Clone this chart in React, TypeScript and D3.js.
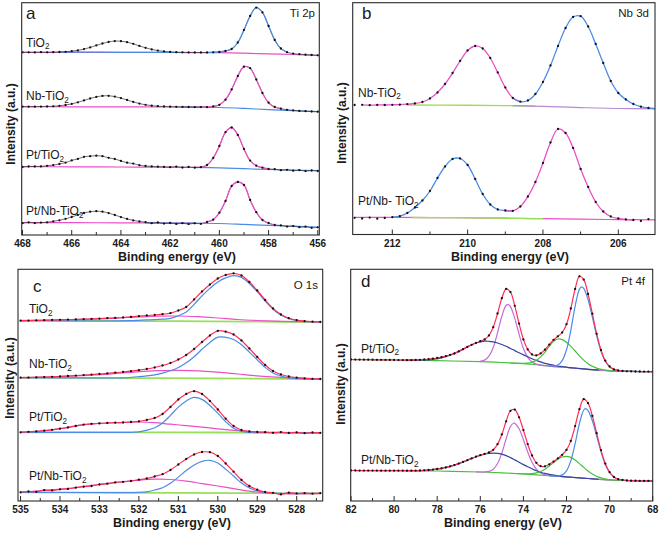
import React from "react";
import * as d3 from "d3";

const FONT = "'Liberation Sans', Arial, Helvetica, sans-serif";
type P = [number, number];

// ---------- binding-energy sampling grids (eV) ----------
const gridA = d3.range(468, 455.9, -0.25);
const gridB = d3.range(213, 204.9, -0.2);
const gridC = d3.range(535, 527.3, -0.2);
const gridD = d3.range(82, 67.9, -0.2);

// ---------- ticks ----------
const aMajor = [468, 466, 464, 462, 460, 458, 456];
const aMinor = [467, 465, 463, 461, 459, 457];
const bMajor = [212, 210, 208, 206];
const bMinor = [211, 209, 207];
const cMajor = [535, 534, 533, 532, 531, 530, 529, 528];
const cMinor = [534.5, 533.5, 532.5, 531.5, 530.5, 529.5, 528.5, 527.5];
const dMajor = [82, 80, 78, 76, 74, 72, 70, 68];
const dMinor = [81, 79, 77, 75, 73, 71, 69];

// ---------- labels ----------
const aSamples = ["TiO₂", "Nb-TiO₂", "Pt/TiO₂", "Pt/Nb-TiO₂"];
const bSamples = ["Nb-TiO₂", "Pt/Nb- TiO₂"];
const cSamples = ["TiO₂", "Nb-TiO₂", "Pt/TiO₂", "Pt/Nb-TiO₂"];
const dSamples = ["Pt/TiO₂", "Pt/Nb-TiO₂"];

// ---------- (a) Ti 2p raw intensities (a.u.) on gridA ----------
const aTiO2 = [186.7,186.7,186.6,186.8,186.7,186.8,187.0,187.2,187.8,188.6,189.9,191.6,193.6,195.5,197.1,197.9,197.8,196.8,195.2,193.1,191.2,189.6,188.4,187.6,187.1,186.8,186.7,186.6,186.5,186.5,186.5,186.7,187.0,188.0,190.0,196.5,209.0,223.0,231.4,226.6,213.0,199.0,190.5,186.8,185.4,184.8,184.3,184.0,183.7];
const aNbTiO2 = [132.3,132.3,132.3,132.4,132.5,132.7,133.2,134.0,135.1,136.7,138.6,140.5,142.1,143.1,143.2,142.4,140.9,139.0,137.1,135.4,134.2,133.3,132.8,132.5,132.3,132.2,132.1,132.0,131.9,131.9,131.8,132.6,134.2,139.3,149.6,163.0,172.3,170.8,159.5,146.0,136.3,132.0,130.3,129.2,128.6,128.1,127.8,127.5,127.3];
const aPtTiO2 = [72.0,72.5,72.5,72.6,73.2,73.9,75.0,76.4,78.6,80.1,82.2,82.8,83.3,82.8,81.2,80.0,78.1,76.3,75.4,73.8,73.0,72.6,72.3,72.1,71.8,72.3,71.5,72.0,71.3,71.8,74.0,81.0,93.0,106.8,111.5,104.0,90.0,78.4,73.3,71.3,70.0,69.8,68.8,69.2,68.3,68.8,67.9,68.5,68.0];
const aPtNbTiO2 = [15.8,16.6,15.9,16.4,16.7,17.7,18.7,20.2,22.0,24.1,26.0,27.3,27.8,27.3,25.9,24.0,21.9,20.1,18.6,17.5,16.8,15.8,16.5,15.4,16.0,15.1,15.8,14.9,15.7,15.2,17.0,19.3,26.3,38.0,53.0,57.0,54.0,39.0,26.8,19.0,16.0,14.0,13.6,12.4,12.9,11.8,12.3,11.2,11.7];
// (a) backgrounds
const aTiO2Pink: P[] = [[468,186.7],[466,186.7],[464,186.6],[462,186.5],[460,186.3],[459,185.8],[458,185.1],[457,184.5],[456,183.7]];
const aTiO2Blue: P[] = [[466.5,186.9],[465,186.8],[463,186.6],[461.5,186.5]];
const aNbPink: P[] = [[468,132.3],[466,132.2],[464,132.1],[462,132.0],[460.5,131.8]];
const aNbBlue: P[] = [[461.5,132.0],[460,131.5],[459,130.6],[458,129.4],[457,128.4],[456,127.3]];
const aPtPink: P[] = [[468,72.3],[466,72.2],[464,72.0],[462,71.8],[460.5,71.6]];
const aPtBlue: P[] = [[461,71.7],[460,71.2],[459,70.3],[458,69.5],[457,68.9],[456,68.3]];
const aPtNbPink: P[] = [[468,16.3],[466,16.3],[464,16.2],[462,16.0],[461,15.9]];
const aPtNbBlue: P[] = [[463,16.1],[461,15.8],[460,15.5],[459,14.6],[458,13.6],[457,12.8],[456,12.0]];

// ---------- (b) Nb 3d on gridB ----------
const bNbTiO2 = [134.0,134.2,133.8,134.1,134.0,134.2,134.3,134.8,135.5,137.0,140.5,146.5,155.0,166.0,178.0,188.5,193.0,190.5,181.0,166.5,151.5,141.0,137.3,138.5,145.0,157.0,173.5,193.0,211.0,222.0,222.8,212.5,195.0,176.0,158.0,146.0,139.5,135.0,132.3,131.0,130.4];
const bPtNbTiO2 = [21.2,20.5,21.4,20.3,21.0,21.8,22.8,26.0,31.5,38.5,48.0,61.0,72.5,80.0,80.5,74.0,60.0,45.0,34.5,29.5,28.5,28.2,32.5,42.5,57.0,76.0,96.5,110.0,106.0,91.0,70.0,52.0,37.0,27.5,22.5,20.5,19.5,19.0,18.0,19.8,19.2];
const bNbGreen: P[] = [[211.6,134.0],[210,133.8],[209,133.4],[208.2,133.0]];
const bNbPurple: P[] = [[208.8,133.4],[208,132.6],[207,131.4],[206,130.5],[205,130.1]];
const bPtGreen: P[] = [[211.5,21.5],[210,21.2],[209,20.8],[208,20.4]];
const bPtPurple: P[] = [[213,21.7],[211,21.4],[209,20.8],[208,20.3],[207,19.8],[206,19.4],[205,19.2]];

// ---------- (c) O 1s on gridC ----------
const cTiO2 = [178.3,178.4,178.6,178.8,179.0,179.2,179.4,179.6,179.8,180.1,180.4,180.8,181.1,181.5,182.1,182.8,183.5,184.0,184.8,185.8,188.5,192.0,199.5,207.5,214.5,220.5,224.0,225.7,223.5,217.0,208.5,199.0,190.5,184.5,180.8,178.8,177.8,177.3,177.0];
const cNbTiO2 = [121.3,121.4,121.6,121.9,122.2,122.6,123.0,123.4,123.9,124.4,125.0,125.6,126.3,127.0,127.8,128.8,130.0,131.5,133.5,136.0,139.5,144.0,150.0,157.0,163.5,168.2,167.3,164.5,158.5,150.5,142.0,134.0,128.0,124.5,122.5,121.3,120.6,120.2,120.0];
const cPtTiO2 = [66.7,67.2,67.6,68.3,69.2,70.3,71.5,73.0,74.4,75.2,75.6,76.0,76.3,76.5,77.0,77.6,79.0,81.0,85.0,92.0,99.5,105.0,107.8,105.0,98.0,89.5,80.3,73.0,69.0,67.5,67.0,66.8,66.2,66.9,66.0,66.6,65.8,66.5,66.2];
const cPtNbTiO2 = [6.7,7.5,7.2,8.8,8.6,9.7,10.0,11.3,12.3,13.0,14.5,15.3,16.6,17.2,18.0,19.3,20.5,22.5,24.8,29.0,34.5,40.0,44.5,47.0,46.8,43.0,35.5,27.3,19.0,13.0,9.3,7.0,6.2,4.6,6.3,5.5,5.9,5.4,5.8];
// (c) fitted components
const cTiO2Green: P[] = [[535,178.3],[533,178.0],[531,177.8],[529,177.3],[527.4,177.0]];
const cTiO2Pink: P[] = [[535,178.3],[534,179.1],[533,180.2],[532.5,181.0],[532,182.0],[531.5,182.8],[531,183.0],[530.5,182.3],[530,181.0],[529.5,179.5],[529,178.5],[528.5,177.8],[528,177.4],[527.4,177.0]];
const cTiO2Blue: P[] = [[535,178.3],[534,178.2],[533,178.0],[532.2,178.3],[532,178.7],[531.8,179.1],[531.6,179.3],[531.4,179.8],[531.2,180.7],[531,183.3],[530.8,187.0],[530.6,194.7],[530.4,203.1],[530.2,210.6],[530,217.0],[529.8,221.1],[529.6,223.3],[529.4,221.6],[529.2,215.5],[529,207.3],[528.8,198.0],[528.6,189.8],[528.4,183.9],[528.2,180.4],[528,178.5],[527.8,177.6],[527.6,177.2],[527.4,177.0]];
const cNbGreen: P[] = [[535,121.3],[533,121.0],[531.5,120.8],[529,120.3],[527.4,120.0]];
const cNbPink: P[] = [[535,121.3],[534,122.4],[533,124.3],[532.5,125.8],[532,127.4],[531.5,128.3],[531,128.7],[530.5,128.2],[530,126.8],[529.5,125.0],[529,123.2],[528.5,121.9],[528,121.0],[527.4,120.2]];
const cNbBlue: P[] = [[535,121.3],[534,121.1],[533,121.0],[532.4,121.2],[532,122.3],[531.8,123.1],[531.6,124.2],[531.4,125.9],[531.2,128.2],[531,131.5],[530.8,136.2],[530.6,142.3],[530.4,149.7],[530.2,156.6],[530,161.9],[529.8,161.7],[529.6,159.5],[529.4,154.3],[529.2,146.9],[529,139.1],[528.8,131.6],[528.6,126.0],[528.4,123.0],[528.2,121.2],[528,120.4],[527.8,120.0],[527.4,120.0]];
const cPtGreen: P[] = [[535,66.7],[532,66.6],[530,66.5],[527.4,66.2]];
const cPtPink: P[] = [[535,66.7],[534.5,67.8],[534,70.3],[533.5,73.8],[533,75.6],[532.5,76.4],[532,77.0],[531.6,76.4],[531.2,74.8],[530.8,73.4],[530.4,71.9],[530,70.2],[529.5,68.4],[529,67.0],[528.5,66.5],[527.4,66.2]];
const cPtBlue: P[] = [[535,66.7],[533,66.6],[532.2,66.7],[532,67.2],[531.8,68.8],[531.6,71.2],[531.4,76.0],[531.2,83.7],[531,91.9],[530.8,98.1],[530.6,101.6],[530.4,99.6],[530.2,93.5],[530,85.8],[529.8,77.3],[529.6,70.7],[529.4,67.5],[529.2,66.5],[528.5,66.4],[527.4,66.2]];
const cPtNbGreen: P[] = [[535,6.7],[531,6.2],[529,5.8],[527.4,5.6]];
const cPtNbPink: P[] = [[535,6.7],[534.5,8.3],[534,9.8],[533.5,12.0],[533,14.6],[532.5,16.8],[532,18.8],[531.6,19.8],[531.2,19.5],[530.8,17.8],[530.4,15.4],[530,13.0],[529.6,10.3],[529.2,7.8],[528.8,6.2],[528.4,5.3],[527.4,5.3]];
const cPtNbBlue: P[] = [[535,6.7],[532.5,6.4],[532,6.6],[531.8,7.2],[531.6,9.0],[531.4,11.3],[531.2,15.7],[531,21.9],[530.8,28.4],[530.6,34.0],[530.4,37.7],[530.2,38.7],[530,36.0],[529.8,29.9],[529.6,23.0],[529.4,15.9],[529.2,11.1],[529,8.1],[528.8,6.6],[528.6,5.9],[528,5.7],[527.4,5.6]];

// ---------- (d) Pt 4f on gridD ----------
const dPtTiO2 = [139.5,139.45,139.4,139.35,139.3,139.25,139.2,139.15,139.1,139.05,139.0,138.95,138.9,138.85,138.8,139.0,139.2,139.5,139.9,140.4,141.0,141.8,142.8,144.2,145.5,147.6,149.8,152.1,154.2,156.1,157.8,159.6,163.5,171.8,185.5,200.8,210.1,206.9,193.2,175.4,159.6,149.6,144.6,143.6,145.6,149.3,154.4,159.2,162.7,166.5,174.8,190.5,210.0,222.7,219.4,205.0,185.3,165.2,149.0,138.3,132.5,129.6,128.5,128.0,127.7,127.6,127.5,127.5,127.4,127.4,127.3];
const dPtNbTiO2 = [28.5,28.5,28.45,28.45,28.4,28.4,28.4,28.35,28.35,28.3,28.3,28.3,28.3,28.3,28.3,28.4,28.5,28.7,29.0,29.4,30.0,30.6,31.5,32.6,33.9,35.4,37.1,38.8,40.6,42.3,43.8,45.1,46.5,49.2,54.8,64.6,77.7,88.2,89.4,81.7,68.9,54.9,43.5,36.2,32.8,32.7,34.7,37.4,40.7,44.2,49.1,58.1,72.9,89.8,99.8,95.8,83.1,65.8,48.9,35.4,26.8,22.0,19.8,19.0,18.5,18.3,18.25,18.2,18.1,18.05,18.0];
const dPtBase: P[] = [[82,139.5],[80,139.0],[78,138.3],[76,137.3],[75,136.5],[74,135.3],[73.5,134.5],[73,133.3],[72.5,132.4],[72,131.5],[71.5,130.6],[71,129.7],[70.5,128.8],[70,128.2],[69,127.6],[68,127.3]];
const dPtPurple: P[] = [[76.4,137.5],[76.2,137.5],[76.0,137.75],[75.8,138.9],[75.6,142.8],[75.4,151.5],[75.2,166.2],[75.0,182.8],[74.8,193.7],[74.7,194.4],[74.6,192.4],[74.4,180.6],[74.2,164.7],[74.0,150.5],[73.8,141.6],[73.6,137.0],[73.4,134.9],[73.2,134.0],[73.0,133.3],[72.5,132.4],[72,131.5],[71,129.7],[70,128.2],[69,127.6],[68,127.3]];
const dPtNavy: P[] = [[79.5,138.8],[79.0,138.8],[78.6,139.0],[78.2,139.7],[77.8,141.1],[77.4,143.8],[77.0,147.6],[76.6,152.1],[76.2,156.0],[75.8,157.8],[75.6,157.7],[75.4,157.1],[75.2,156.0],[75.0,154.5],[74.8,152.7],[74.6,150.5],[74.4,148.4],[74.2,146.2],[74.0,144.1],[73.8,142.2],[73.6,140.3],[73.4,138.6],[73.2,137.1],[73.0,135.7],[72.8,134.6],[72.6,133.8],[72.4,133.0],[72.2,132.5],[72.0,131.9],[71.8,131.3],[71.6,130.9],[71.4,130.5],[71.0,129.7],[70.5,128.8]];
const dPtGreen: P[] = [[74.6,136.0],[74.2,135.6],[74.0,135.6],[73.8,135.8],[73.6,136.7],[73.4,138.7],[73.2,142.1],[73.0,146.9],[72.8,152.6],[72.6,157.6],[72.4,160.0],[72.2,159.4],[72.0,156.7],[71.8,152.7],[71.6,148.0],[71.4,143.2],[71.2,138.9],[71.0,135.3],[70.8,132.7],[70.6,130.9],[70.4,129.6],[70.2,128.9],[70.0,128.4],[69.6,128.0],[69.0,127.6]];
const dPtBlue: P[] = [[72.8,133.0],[72.6,133.0],[72.4,134.1],[72.2,138.4],[72.0,149.2],[71.8,168.7],[71.6,192.7],[71.4,209.9],[71.3,212.2],[71.2,210.6],[71.0,199.4],[70.8,181.9],[70.6,163.3],[70.4,148.0],[70.2,137.8],[70.0,132.3],[69.8,129.6],[69.6,128.5],[69.4,128.0],[69.0,127.6],[68.0,127.3]];
const dPtNbBase: P[] = [[82,28.5],[80,28.3],[78,28.0],[76,27.0],[75,26.2],[74,25.0],[73,23.5],[72,22.0],[71,20.5],[70,19.0],[69,18.3],[68,18.0]];
const dPtNbPurple: P[] = [[76.2,27.1],[76.0,27.0],[75.8,27.0],[75.6,27.6],[75.4,29.8],[75.2,35.5],[75.0,46.0],[74.8,60.3],[74.6,72.5],[74.44,76.0],[74.4,75.8],[74.2,70.2],[74.0,59.3],[73.8,47.0],[73.6,36.7],[73.4,29.9],[73.2,26.1],[73.0,24.3],[72.8,23.5],[72.6,23.0],[72,22.0],[71,20.5],[70,19.0],[69,18.3],[68,18.0]];
const dPtNbNavy: P[] = [[79.5,28.3],[79.0,28.4],[78.6,28.7],[78.2,29.4],[77.8,30.6],[77.4,32.6],[77.0,35.4],[76.6,38.8],[76.2,42.3],[75.8,44.9],[75.6,45.6],[75.4,45.9],[75.2,45.7],[75.0,44.8],[74.8,43.4],[74.6,41.4],[74.4,39.1],[74.2,36.7],[74.0,34.4],[73.8,32.2],[73.6,30.2],[73.4,28.3],[73.2,26.8],[73.0,25.6],[72.6,23.8],[72.2,22.65],[71.8,21.8],[71.4,21.15],[71.0,20.5],[70.5,19.75]];
const dPtNbGreen: P[] = [[74.4,25.5],[74.2,25.3],[74.0,25.2],[73.8,25.1],[73.6,25.4],[73.4,26.2],[73.2,27.5],[73.0,29.8],[72.8,33.0],[72.6,36.4],[72.4,39.7],[72.2,42.0],[72.0,42.7],[71.8,41.6],[71.6,39.0],[71.4,35.4],[71.2,31.6],[71.0,28.0],[70.8,25.0],[70.6,22.7],[70.4,21.1],[70.2,20.1],[70.0,19.3],[69.6,18.8],[69.0,18.3]];
const dPtNbBlue: P[] = [[72.8,23.2],[72.6,23.0],[72.4,23.0],[72.2,24.1],[72.0,28.2],[71.8,38.1],[71.6,55.3],[71.4,75.5],[71.2,89.0],[71.12,90.3],[71.0,88.3],[70.8,78.3],[70.6,63.0],[70.4,47.4],[70.2,34.6],[70.0,26.5],[69.8,22.0],[69.6,19.8],[69.4,19.0],[69.0,18.3],[68.0,18.0]];

// ---------- colours ----------
const PINK = "#ec4fc6";
const BLUE = "#4a8ce6";
const RED = "#ff2d55";
const LIME = "#9ade5a";
const GREEN = "#45c03a";
const NAVY = "#33449c";
const PURPLE = "#c56ad9";
const LILAC = "#b68ad4";

const zip = (grid: number[], vals: number[]): P[] => grid.map((e, i) => [e, vals[i]] as P);
const within = (p: P[], hi: number, lo: number) => p.filter((d) => d[0] <= hi + 1e-6 && d[0] >= lo - 1e-6);

interface LineSpec { pts: P[]; color: string; w?: number }
interface LabelSpec { text: string; x: number; y: number }
interface PanelSpec {
  id: string;
  fl: number; fr: number; ft: number; fb: number;
  xDom: [number, number]; xRng: [number, number];
  yDom: [number, number]; yRng: [number, number];
  major: number[]; minor: number[];
  lines: LineSpec[];
  dots: P[][];
  letter: string; letterX: number; letterY: number;
  core: string; coreX: number; coreY: number;
  labels: LabelSpec[];
  titleX: number; titleY: number; tickY: number;
  yTitleX: number; yTitleY: number;
}

function SubText({ text, x, y, size }: { text: string; x: number; y: number; size: number }) {
  const parts = text.split("₂");
  return (
    <text x={x} y={y} fontFamily={FONT} fontSize={size} fill="#1a1a1a">
      {parts.map((p, i) => (
        <React.Fragment key={i}>
          {i > 0 && (
            <tspan fontSize={size * 0.68} dy={2.5}>2</tspan>
          )}
          {i > 0 ? <tspan dy={-2.5}>{p}</tspan> : p}
        </React.Fragment>
      ))}
    </text>
  );
}

function Panel({ s }: { s: PanelSpec }) {
  const x = d3.scaleLinear().domain(s.xDom).range(s.xRng);
  const y = d3.scaleLinear().domain(s.yDom).range(s.yRng);
  const line = d3
    .line<P>()
    .x((d) => x(d[0]))
    .y((d) => y(d[1]))
    .curve(d3.curveCatmullRom.alpha(0.5));
  const clipId = `clip-${s.id}`;
  return (
    <g>
      <defs>
        <clipPath id={clipId}>
          <rect x={s.fl} y={s.ft} width={s.fr - s.fl} height={s.fb - s.ft} />
        </clipPath>
      </defs>
      <g clipPath={`url(#${clipId})`}>
        {s.lines.map((l, i) => (
          <path key={i} d={line(l.pts) || ""} fill="none" stroke={l.color} strokeWidth={l.w ?? 1.2} strokeLinejoin="round" />
        ))}
        {s.dots.map((arr, i) =>
          arr.map((d, j) => <circle key={`${i}-${j}`} cx={x(d[0])} cy={y(d[1])} r={1.15} fill="#111" />)
        )}
      </g>
      <rect x={s.fl} y={s.ft} width={s.fr - s.fl} height={s.fb - s.ft} fill="none" stroke="#2a2a2a" strokeWidth={1.1} />
      {s.major.map((t) => (
        <g key={`M${t}`}>
          <line x1={x(t)} x2={x(t)} y1={s.fb} y2={s.fb - 5} stroke="#2a2a2a" strokeWidth={1} />
          <text x={x(t)} y={s.tickY} textAnchor="middle" fontFamily={FONT} fontWeight="bold" fontSize={10} fill="#1a1a1a">
            {t}
          </text>
        </g>
      ))}
      {s.minor.map((t) => (
        <line key={`m${t}`} x1={x(t)} x2={x(t)} y1={s.fb} y2={s.fb - 3} stroke="#2a2a2a" strokeWidth={1} />
      ))}
      <text x={s.titleX} y={s.titleY} textAnchor="middle" fontFamily={FONT} fontWeight="bold" fontSize={12.5} fill="#1a1a1a">
        Binding energy (eV)
      </text>
      <text
        transform={`translate(${s.yTitleX},${s.yTitleY}) rotate(-90)`}
        textAnchor="middle"
        fontFamily={FONT}
        fontWeight="bold"
        fontSize={12}
        fill="#1a1a1a"
      >
        Intensity (a.u.)
      </text>
      <text x={s.letterX} y={s.letterY} fontFamily={FONT} fontSize={17} fill="#1a1a1a">
        {s.letter}
      </text>
      <text x={s.coreX} y={s.coreY} textAnchor="end" fontFamily={FONT} fontSize={11.5} fill="#1a1a1a">
        {s.core}
      </text>
      {s.labels.map((l, i) => (
        <SubText key={i} text={l.text} x={l.x} y={l.y} size={12} />
      ))}
    </g>
  );
}

export default function App() {
  // panel a
  const a1 = zip(gridA, aTiO2), a2 = zip(gridA, aNbTiO2), a3 = zip(gridA, aPtTiO2), a4 = zip(gridA, aPtNbTiO2);
  const panelA: PanelSpec = {
    id: "a", fl: 21.7, fr: 319.3, ft: 2.7, fb: 235,
    xDom: [468, 456], xRng: [22.5, 317.8], yDom: [0, 239], yRng: [239, 0],
    major: aMajor, minor: aMinor,
    lines: [
      { pts: aTiO2Pink, color: PINK }, { pts: aTiO2Blue, color: BLUE },
      { pts: aNbPink, color: PINK }, { pts: aNbBlue, color: BLUE },
      { pts: aPtPink, color: PINK }, { pts: aPtBlue, color: BLUE },
      { pts: aPtNbPink, color: PINK }, { pts: aPtNbBlue, color: BLUE },
      { pts: a1, color: "#333", w: 0.7 }, { pts: a2, color: "#333", w: 0.7 },
      { pts: a3, color: "#333", w: 0.7 }, { pts: a4, color: "#333", w: 0.7 },
      { pts: within(a1, 460.5, 457.25), color: BLUE, w: 1.3 },
      { pts: within(a2, 460.75, 457.5), color: PINK, w: 1.3 },
      { pts: within(a3, 460.75, 458.0), color: PINK, w: 1.3 },
      { pts: within(a4, 460.75, 457.75), color: PINK, w: 1.3 },
    ],
    dots: [a1, a2, a3, a4],
    letter: "a", letterX: 26, letterY: 19, core: "Ti 2p", coreX: 315, coreY: 17,
    labels: [
      { text: aSamples[0], x: 26, y: 46.5 }, { text: aSamples[1], x: 26, y: 100 },
      { text: aSamples[2], x: 26, y: 159 }, { text: aSamples[3], x: 26, y: 215 },
    ],
    titleX: 177, titleY: 260.5, tickY: 246.5, yTitleX: 14.5, yTitleY: 124,
  };

  // panel b
  const b1 = zip(gridB, bNbTiO2), b2 = zip(gridB, bPtNbTiO2);
  const panelB: PanelSpec = {
    id: "b", fl: 352.7, fr: 655, ft: 2.7, fb: 234.5,
    xDom: [212, 206], xRng: [392.3, 618.3], yDom: [0, 239], yRng: [239, 0],
    major: bMajor, minor: bMinor,
    lines: [
      { pts: bNbGreen, color: LIME, w: 1.4 }, { pts: bNbPurple, color: LILAC },
      { pts: bPtPurple, color: PINK }, { pts: bPtGreen, color: LIME, w: 1.4 },
      { pts: within(b1, 212.8, 208.6), color: PINK, w: 1.3 },
      { pts: within(b1, 208.8, 205), color: BLUE, w: 1.3 },
      { pts: within(b2, 212.0, 208.8), color: BLUE, w: 1.3 },
      { pts: within(b2, 209.0, 205.6), color: PINK, w: 1.3 },
    ],
    dots: [b1, b2],
    letter: "b", letterX: 362, letterY: 19, core: "Nb 3d", coreX: 649, coreY: 17,
    labels: [{ text: bSamples[0], x: 358, y: 96.5 }, { text: bSamples[1], x: 358, y: 205 }],
    titleX: 510, titleY: 260.5, tickY: 246.5, yTitleX: 346, yTitleY: 123,
  };

  // panel c
  const c1 = zip(gridC, cTiO2), c2 = zip(gridC, cNbTiO2), c3 = zip(gridC, cPtTiO2), c4 = zip(gridC, cPtNbTiO2);
  const panelC: PanelSpec = {
    id: "c", fl: 18, fr: 322.7, ft: 269.3, fb: 501,
    xDom: [534, 528], xRng: [60, 296.7], yDom: [0, 499], yRng: [499, 0],
    major: cMajor, minor: cMinor,
    lines: [
      { pts: cTiO2Green, color: LIME, w: 1.8 }, { pts: cNbGreen, color: LIME, w: 1.8 },
      { pts: cPtGreen, color: LIME, w: 1.8 }, { pts: cPtNbGreen, color: LIME, w: 1.8 },
      { pts: cTiO2Pink, color: PINK }, { pts: cNbPink, color: PINK },
      { pts: cPtPink, color: PINK }, { pts: cPtNbPink, color: PINK },
      { pts: cTiO2Blue, color: BLUE }, { pts: cNbBlue, color: BLUE },
      { pts: cPtBlue, color: BLUE }, { pts: cPtNbBlue, color: BLUE },
      { pts: c1, color: RED }, { pts: c2, color: RED }, { pts: c3, color: RED }, { pts: c4, color: RED },
    ],
    dots: [c1, c2, c3, c4],
    letter: "c", letterX: 33, letterY: 291.5, core: "O 1s", coreX: 318, coreY: 289,
    labels: [
      { text: cSamples[0], x: 29, y: 313 }, { text: cSamples[1], x: 29, y: 368 },
      { text: cSamples[2], x: 29, y: 421 }, { text: cSamples[3], x: 29, y: 480 },
    ],
    titleX: 172, titleY: 527, tickY: 513, yTitleX: 13.5, yTitleY: 378,
  };

  // panel d
  const d1 = zip(gridD, dPtTiO2), d2 = zip(gridD, dPtNbTiO2);
  const panelD: PanelSpec = {
    id: "d", fl: 350.7, fr: 652.7, ft: 269.3, fb: 501,
    xDom: [82, 68], xRng: [351, 652.7], yDom: [0, 499], yRng: [499, 0],
    major: dMajor, minor: dMinor,
    lines: [
      { pts: dPtBase, color: GREEN }, { pts: dPtNbBase, color: GREEN },
      { pts: dPtPurple, color: PURPLE }, { pts: dPtNbPurple, color: PURPLE },
      { pts: dPtNavy, color: NAVY }, { pts: dPtNbNavy, color: NAVY },
      { pts: dPtGreen, color: GREEN }, { pts: dPtNbGreen, color: GREEN },
      { pts: dPtBlue, color: BLUE }, { pts: dPtNbBlue, color: BLUE },
      { pts: d1, color: RED }, { pts: d2, color: RED },
    ],
    dots: [d1, d2],
    letter: "d", letterX: 361, letterY: 287, core: "Pt 4f", coreX: 645, coreY: 285,
    labels: [{ text: dSamples[0], x: 361, y: 352.5 }, { text: dSamples[1], x: 361, y: 464 }],
    titleX: 503, titleY: 527, tickY: 513, yTitleX: 345, yTitleY: 384,
  };

  return (
    <svg
      width={660}
      height={534}
      viewBox="0 0 660 534"
      style={{ position: "absolute", left: 0, top: 0, background: "#fff" }}
    >
      <rect x={0} y={0} width={660} height={534} fill="#fff" />
      <Panel s={panelA} />
      <Panel s={panelB} />
      <Panel s={panelC} />
      <Panel s={panelD} />
    </svg>
  );
}
